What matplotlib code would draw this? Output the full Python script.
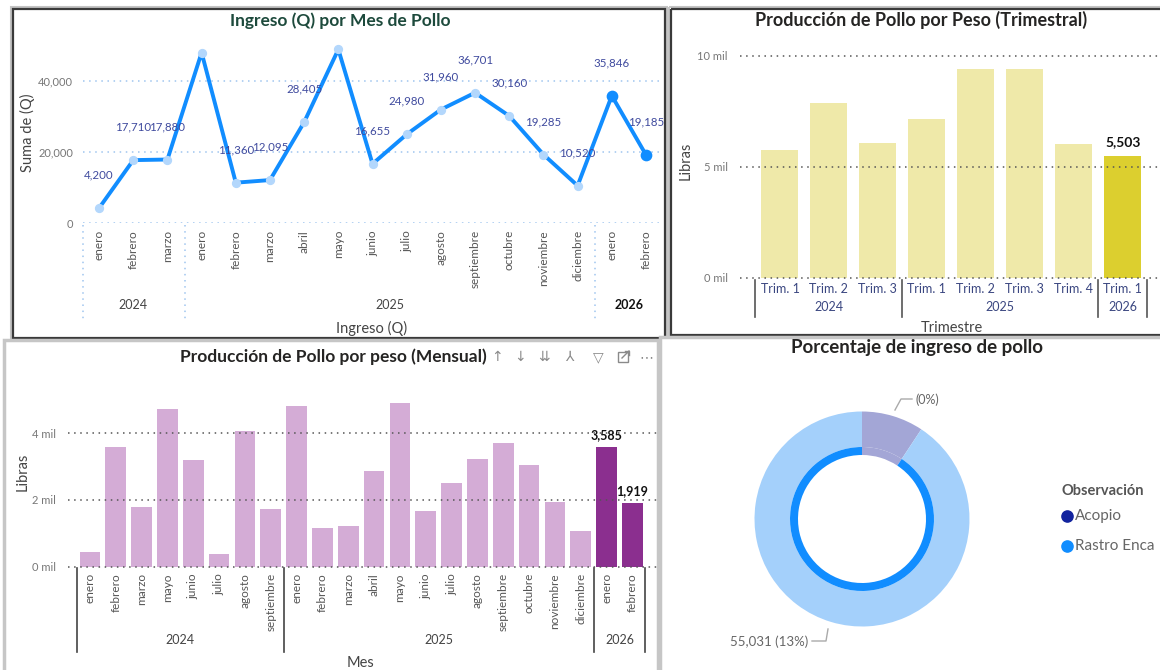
import matplotlib
matplotlib.use("Agg")
import matplotlib.pyplot as plt
import numpy as np
from matplotlib.patches import Rectangle
from matplotlib.transforms import blended_transform_factory

W, H = 1160, 670
plt.rcParams["font.family"] = ["Lato", "DejaVu Sans"]

# --- Ingreso (Q) por mes ---
ingreso_meses = ["enero", "febrero", "marzo",
                 "enero", "febrero", "marzo", "abril", "mayo", "junio", "julio",
                 "agosto", "septiembre", "octubre", "noviembre", "diciembre",
                 "enero", "febrero"]
ingreso_anios = ["2024", "2025", "2026"]
ingreso_anio_n = [3, 12, 2]
ingreso_q = [4200, 17710, 17880,
             48000, 11360, 12095, 28405, 48900, 16655, 24980,
             31960, 36701, 30160, 19285, 10520,
             35846, 19185]
ingreso_sin_etiqueta = [3, 7]

# --- Producción trimestral (libras) ---
trim_labels = ["Trim. 1", "Trim. 2", "Trim. 3",
               "Trim. 1", "Trim. 2", "Trim. 3", "Trim. 4",
               "Trim. 1"]
trim_anios = ["2024", "2025", "2026"]
trim_anio_n = [3, 4, 1]
trim_libras = [5770, 7870, 6070, 7150, 9400, 9400, 6020, 5503]

# --- Producción mensual (libras) ---
mes_labels = ["enero", "febrero", "marzo", "mayo", "junio", "julio", "agosto", "septiembre",
              "enero", "febrero", "marzo", "abril", "mayo", "junio", "julio",
              "agosto", "septiembre", "octubre", "noviembre", "diciembre",
              "enero", "febrero"]
mes_anios = ["2024", "2025", "2026"]
mes_anio_n = [8, 12, 2]
mes_libras = [430, 3580, 1800, 4710, 3200, 370, 4050, 1720,
              4820, 1150, 1220, 2870, 4900, 1680, 2520,
              3220, 3700, 3040, 1950, 1060,
              3585, 1919]

# --- Porcentaje de ingreso ---
dona_categorias = ["Acopio", "Rastro Enca"]
dona_valores = [5640, 55031]
dona_etiquetas = ["(0%)", "55,031 (13%)"]
dona_colores = ["#12239e", "#118dff"]

fig = plt.figure(figsize=(W / 100, H / 100), dpi=100)
fig.patch.set_facecolor("white")


def px_axes(x0, y0, x1, y1):
    ax = fig.add_axes([x0 / W, 1 - y1 / H, (x1 - x0) / W, (y1 - y0) / H])
    ax.set_facecolor("none")
    return ax


ov = px_axes(0, 0, W, H)
ov.axis("off")

# panel frames
ov.add_patch(Rectangle((11, 7), 656, 333, fill=False, ec="#c4c4c4", lw=1.5))
ov.add_patch(Rectangle((13, 9), 652, 329, fill=False, ec="#3a3a3a", lw=1.6))
ov.add_patch(Rectangle((669, 7), 500, 330, fill=False, ec="#c4c4c4", lw=1.5))
ov.add_patch(Rectangle((671, 9), 500, 326, fill=False, ec="#3a3a3a", lw=1.6))
ov.add_patch(Rectangle((4, 340), 654, 340, fc="white", ec="#c6c6c6", lw=2.5))
ov.add_patch(Rectangle((660, 337), 510, 340, fc="white", ec="#c6c6c6", lw=2.5))

dotted = (0, (1, 3))
tick_style = dict(length=0, labelsize=8, labelcolor="#777777")


def clean(ax):
    for s in ax.spines.values():
        s.set_visible(False)
    ax.set_xticks([])


# ---------------- Panel 1: line ----------------
ov.text(340, 21, "Ingreso (Q) por Mes de Pollo", ha="center", va="center",
        fontsize=12.5, fontweight="bold", color="#1d4a3c")
ax1 = px_axes(83, 45, 660, 223)
clean(ax1)
x1 = np.arange(len(ingreso_q))
ax1.set_xlim(-0.47, 16.41)
ax1.set_ylim(0, 50140)
for g in [0, 20000, 40000]:
    ax1.axhline(g, color="#9fc5ef", lw=1.1, ls=dotted, zorder=1)
ax1.plot(x1, ingreso_q, color="#118dff", lw=2.8, zorder=3, clip_on=False)
ax1.scatter(x1[:-2], ingreso_q[:-2], s=32, color="#b3d7fc", zorder=4, clip_on=False)
ax1.scatter(x1[-2:], ingreso_q[-2:], s=55, color="#118dff", zorder=4, clip_on=False)
ax1.set_yticks([0, 20000, 40000])
ax1.set_yticklabels([f"{v:,}" for v in [0, 20000, 40000]])
ax1.tick_params(axis="y", pad=7, **tick_style)
for i, v in enumerate(ingreso_q):
    if i in ingreso_sin_etiqueta:
        continue
    ax1.annotate(f"{v:,}", (i, v), xytext=(0, 33), textcoords="offset pixels",
                 ha="center", va="center", fontsize=8.3, color="#3f4a9e")
t1 = blended_transform_factory(ax1.transData, ov.transData)
for i, m in enumerate(ingreso_meses):
    ax1.text(i, 230, m, rotation=90, ha="center", va="top", fontsize=8.5,
             color="#555555", transform=t1)
start = 0
for a, n in zip(ingreso_anios, ingreso_anio_n):
    ax1.plot([start - 0.5 if start else -0.47] * 2, [225, 320], transform=t1,
             color="#9fc5ef", lw=1.1, ls=dotted, clip_on=False)
    ax1.text(start + (n - 1) / 2, 305, a, ha="center", va="center", fontsize=9,
             color="#111111" if a == "2026" else "#444444",
             fontweight="bold" if a == "2026" else "normal", transform=t1)
    start += n
ov.text(27, 133, "Suma de (Q)", rotation=90, ha="center", va="center",
        fontsize=10.5, color="#444444")
ov.text(372, 328, "Ingreso (Q)", ha="center", va="center", fontsize=10.5, color="#444444")

# ---------------- Panel 2: quarterly bars ----------------
ov.text(921, 20, "Producción de Pollo por Peso (Trimestral)", ha="center", va="center",
        fontsize=13, fontweight="bold", color="#252423")
ax2 = px_axes(740, 50, 1160, 278)
clean(ax2)
x2 = np.arange(len(trim_libras))
ax2.set_xlim(-0.816, 7.76)
ax2.set_ylim(0, 10270)
for g in [0, 5000, 10000]:
    ax2.axhline(g, color="#555555", lw=1.1, ls=dotted, zorder=3, clip_on=False)
c2 = ["#efe9a9"] * (len(trim_libras) - 1) + ["#dccf2f"]
ax2.bar(x2, trim_libras, width=0.755, color=c2, zorder=2)
ax2.set_yticks([0, 5000, 10000])
ax2.set_yticklabels([f"{v // 1000} mil" for v in [0, 5000, 10000]])
ax2.tick_params(axis="y", pad=9, **tick_style)
ax2.annotate(f"{trim_libras[-1]:,}", (x2[-1], trim_libras[-1]), xytext=(0, 14),
             textcoords="offset pixels", ha="center", va="center",
             fontsize=10, fontweight="bold", color="#111111")
t2 = blended_transform_factory(ax2.transData, ov.transData)
for i, lab in enumerate(trim_labels):
    ax2.text(i, 289, lab, ha="center", va="center", fontsize=9, color="#3a4680",
             transform=t2)
start = 0
for a, n in zip(trim_anios, trim_anio_n):
    ax2.plot([start - 0.5] * 2, [280, 317], transform=t2, color="#555555", lw=1.2,
             clip_on=False)
    ax2.text(start + (n - 1) / 2, 307, a, ha="center", va="center", fontsize=9,
             color="#3a4680", transform=t2)
    start += n
ax2.plot([start - 0.5] * 2, [280, 317], transform=t2, color="#555555", lw=1.2,
         clip_on=False)
ov.text(686, 161, "Libras", rotation=90, ha="center", va="center", fontsize=10.5,
        color="#444444")
ov.text(952, 328, "Trimestre", ha="center", va="center", fontsize=10.5, color="#444444")

# ---------------- Panel 3: monthly bars ----------------
ov.text(333, 357, "Producción de Pollo por peso (Mensual)", ha="center", va="center",
        fontsize=12.5, fontweight="bold", color="#252423")
for xi, icon in zip([497, 520, 544, 569, 598, 646],
                    ["↑", "↓", "⇊", "⅄", "▽", "⋯"]):
    ov.text(xi, 357, icon, ha="center", va="center", fontsize=10, color="#8a8a8a",
            family=["DejaVu Sans"])
# focus-mode icon (no installed glyph): small box with a diagonal arrow
ov.add_patch(Rectangle((618, 352), 10, 10, fill=False, ec="#8a8a8a", lw=1))
ov.plot([622, 629], [358, 351], color="#8a8a8a", lw=1)
ov.plot([625, 629, 629], [351, 351, 355], color="#8a8a8a", lw=1)
ax3 = px_axes(68, 390, 658, 566.7)
clean(ax3)
x3 = np.arange(len(mes_libras))
ax3.set_xlim(-0.85, 21.99)
ax3.set_ylim(0, 5290)
for g in [0, 2000, 4000]:
    ax3.axhline(g, color="#555555", lw=1.1, ls=dotted, zorder=3, clip_on=False)
c3 = ["#d4acd6"] * (len(mes_libras) - 2) + ["#8b2f8f"] * 2
ax3.bar(x3, mes_libras, width=0.8, color=c3, zorder=2)
ax3.set_yticks([0, 2000, 4000])
ax3.set_yticklabels([f"{v // 1000} mil" for v in [0, 2000, 4000]])
ax3.tick_params(axis="y", pad=9, **tick_style)
for i in x3[-2:]:
    ax3.annotate(f"{mes_libras[i]:,}", (i, mes_libras[i]), xytext=(0, 12),
                 textcoords="offset pixels", ha="center", va="center",
                 fontsize=9, fontweight="bold", color="#111111")
t3 = blended_transform_factory(ax3.transData, ov.transData)
for i, m in enumerate(mes_labels):
    ax3.text(i, 573, m, rotation=90, ha="center", va="top", fontsize=8.5,
             color="#555555", transform=t3)
start = 0
for a, n in zip(mes_anios, mes_anio_n):
    ax3.plot([start - 0.5] * 2, [568, 652], transform=t3, color="#444444", lw=1.2,
             clip_on=False)
    ax3.text(start + (n - 1) / 2, 640, a, ha="center", va="center", fontsize=9,
             color="#444444", transform=t3)
    start += n
ax3.plot([start - 0.5] * 2, [568, 652], transform=t3, color="#444444", lw=1.2,
         clip_on=False)
ov.text(23, 472, "Libras", rotation=90, ha="center", va="center", fontsize=10.5,
        color="#444444")
ov.text(360, 663, "Mes", ha="center", va="center", fontsize=10.5, color="#444444")

# ---------------- Panel 4: donut ----------------
ov.text(917, 348, "Porcentaje de ingreso de pollo", ha="center", va="center",
        fontsize=13.5, fontweight="bold", color="#252423")
ax4 = px_axes(660, 337, 1160, 670)
ax4.pie(dona_valores, startangle=90, counterclock=False, radius=107.5, center=(202, 151),
        colors=["#a3a6d6", "#a4d0fb"], wedgeprops=dict(width=35.5, lw=0))
ax4.pie(dona_valores, startangle=90, counterclock=False, radius=72, center=(202, 151),
        colors=["#a3a6d6", "#118dff"], wedgeprops=dict(width=8, lw=0))
ax4.set_aspect("auto")
ax4.set_xlim(0, 500)
ax4.set_ylim(0, 333)
ax4.axis("off")
ov.plot([895, 901, 912], [410, 399, 399], color="#aaaaaa", lw=1)
ov.text(915, 400, dona_etiquetas[0], ha="left", va="center", fontsize=9, color="#666666")
ov.plot([828, 826, 812], [629, 641, 641], color="#aaaaaa", lw=1)
ov.text(808, 642, dona_etiquetas[1], ha="right", va="center", fontsize=9.5, color="#666666")
ov.text(1061, 491, "Observación", ha="left", va="center", fontsize=10.5,
        fontweight="bold", color="#555555")
for k, (cat, col) in enumerate(zip(dona_categorias, dona_colores)):
    yy = 516 + 30 * k
    ov.scatter([1067], [yy], s=65, color=col)
    ov.text(1075, yy, cat, ha="left", va="center", fontsize=11, color="#666666")
ov.set_xlim(0, W)
ov.set_ylim(H, 0)

fig.savefig("out.png", dpi=100, facecolor="white")
